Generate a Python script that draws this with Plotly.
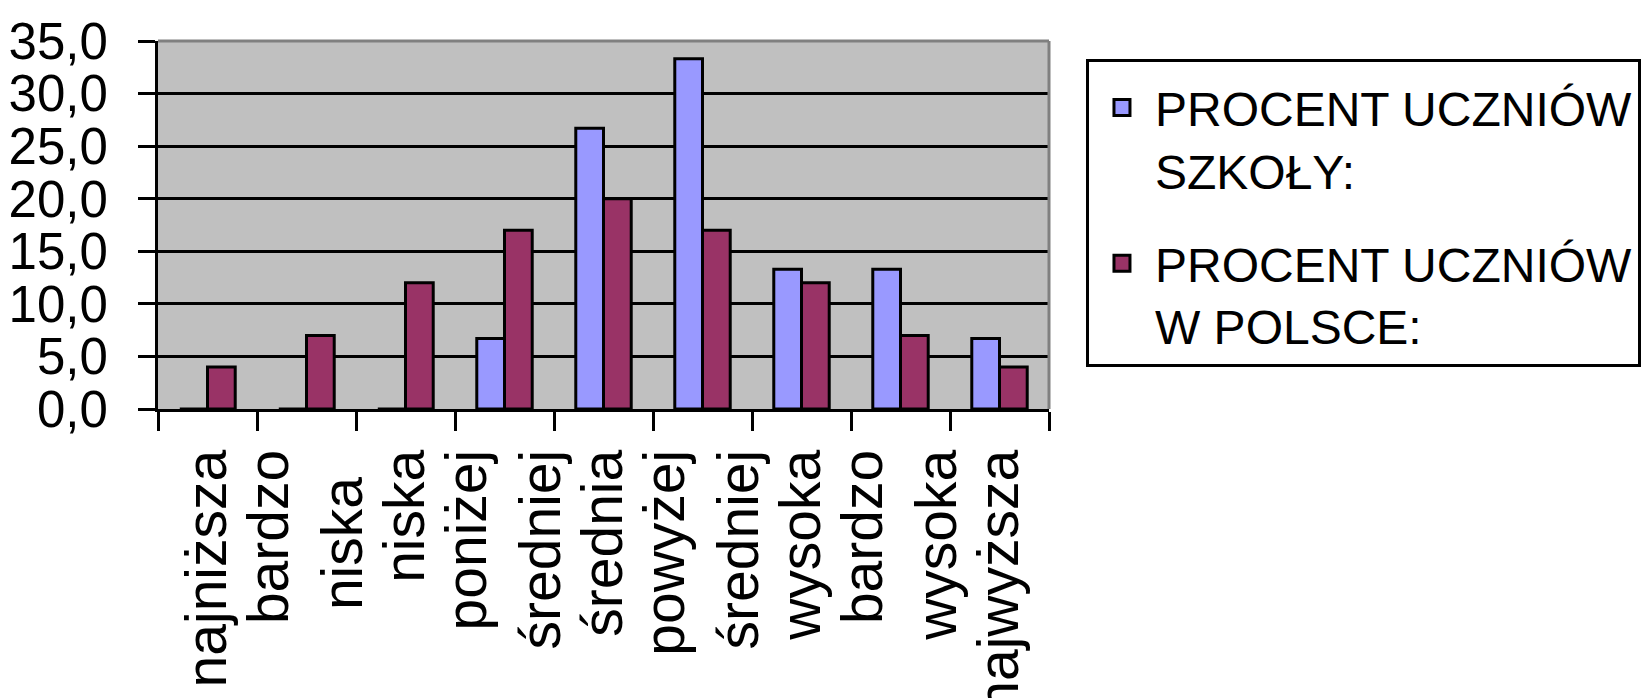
import plotly.graph_objects as go

categories = ["najniższa", "bardzo<br>niska\u00a0\u2009", "niska", "poniżej<br>średniej", "średnia",
              "powyżej<br>średniej", "wysoka", "bardzo<br>wysoka", "najwyższa"]
school = [0.0, 0.0, 0.0, 6.7, 26.7, 33.3, 13.3, 13.3, 6.7]
poland = [4.0, 7.0, 12.0, 17.0, 20.0, 17.0, 12.0, 7.0, 4.0]
name_school = "PROCENT UCZNIÓW<br>SZKOŁY:"
name_poland = "PROCENT UCZNIÓW<br>W POLSCE:"
color_school = "#9999FF"
color_poland = "#993366"

FONT = "Liberation Sans, Arial, sans-serif"

fig = go.Figure()
fig.add_trace(go.Bar(x=categories, y=school, name=name_school, showlegend=False,
                     marker=dict(color=color_school, line=dict(color="black", width=3))))
fig.add_trace(go.Bar(x=categories, y=poland, name=name_poland, showlegend=False,
                     marker=dict(color=color_poland, line=dict(color="black", width=3))))
# legend entries with larger square swatches
fig.add_trace(go.Scatter(x=[None], y=[None], mode="markers", name=name_school, legendgroup="a",
                         marker=dict(symbol="square", size=16, color=color_school,
                                     line=dict(color="black", width=3))))
fig.add_trace(go.Scatter(x=[None], y=[None], mode="markers", name=name_poland, legendgroup="b",
                         marker=dict(symbol="square", size=16, color=color_poland,
                                     line=dict(color="black", width=3))))

fig.update_layout(
    width=1652, height=698,
    margin=dict(l=150, r=611, t=33, b=297, autoexpand=False),
    paper_bgcolor="white", plot_bgcolor="#C0C0C0",
    barmode="group", bargap=0.44, bargroupgap=0,
    separators=", ",
    font=dict(family=FONT, color="black"),
    showlegend=True,
    legend=dict(x=1.0415, y=0.951, xanchor="left", yanchor="top",
                bgcolor="white", bordercolor="black", borderwidth=3,
                font=dict(size=48, family=FONT), tracegroupgap=28,
                traceorder="grouped", itemwidth=56, itemsizing="trace",
                valign="top",
                title=dict(text="&nbsp;", font=dict(size=6))),
)
fig.update_yaxes(range=[0, 35], dtick=5, tickformat=".1f",
                 showgrid=True, gridcolor="black", gridwidth=3,
                 showline=True, linecolor="black", linewidth=3,
                 ticks="outside", ticklen=17, tickwidth=3, tickcolor="black",
                 ticklabelstandoff=20, ticklabeloverflow="allow",
                 tickfont=dict(size=51, family=FONT), zeroline=False)
fig.update_xaxes(type="category", tickangle=-90, tickson="boundaries",
                 showline=True, linecolor="black", linewidth=3,
                 ticks="outside", ticklen=19, tickwidth=3, tickcolor="black",
                 ticklabelstandoff=15, ticklabeloverflow="allow",
                 tickfont=dict(size=57, family=FONT), showgrid=False)
fig.add_shape(type="line", xref="paper", yref="paper", x0=0, x1=1, y0=1, y1=1,
              line=dict(color="#808080", width=3))
fig.add_shape(type="line", xref="paper", yref="paper", x0=1, x1=1, y0=0, y1=1,
              line=dict(color="#808080", width=3))

fig.write_html("out.html")
